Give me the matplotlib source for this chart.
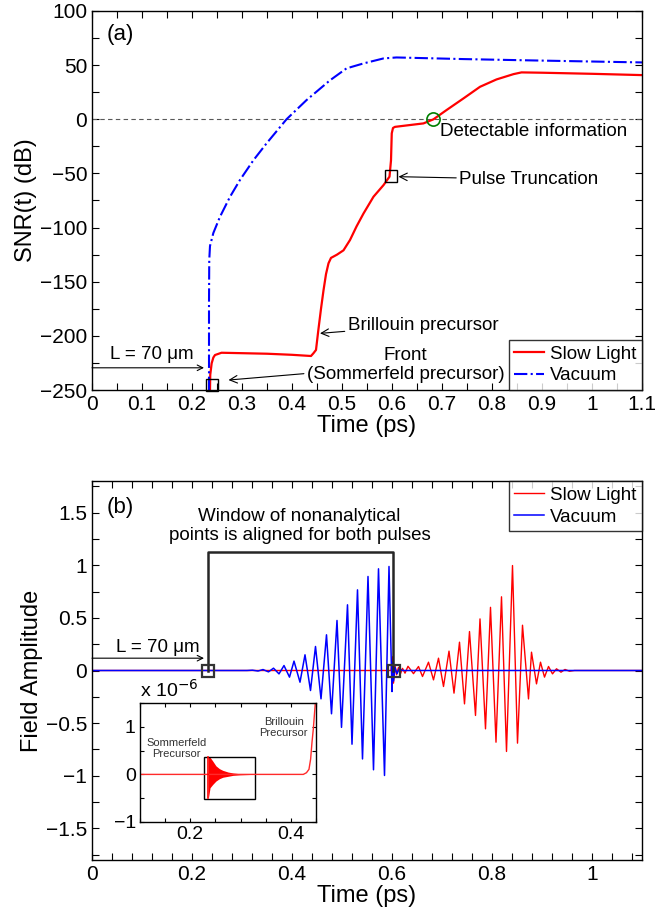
import matplotlib
matplotlib.use('Agg')
import matplotlib.pyplot as plt
from matplotlib.ticker import MultipleLocator, FuncFormatter, FixedLocator
from matplotlib.patches import Rectangle

plt.rcParams['font.family'] = ['Liberation Sans', 'DejaVu Sans']

# (a) SNR curves
slow_t = [0.236, 0.2365, 0.2393, 0.2427, 0.246, 0.259, 0.30, 0.35, 0.40, 0.438, 0.443,
          0.448, 0.4527, 0.458, 0.463, 0.468, 0.473, 0.478, 0.49, 0.503, 0.516, 0.529,
          0.543, 0.563, 0.583, 0.595, 0.598, 0.5995, 0.602, 0.606, 0.629, 0.663, 0.683,
          0.709, 0.743, 0.776, 0.809, 0.843, 0.859, 0.90, 1.0, 1.1]
slow_snr = [-250, -236, -225.4, -220, -217.7, -215.6, -216, -216.5, -217.5, -218.6, -216,
            -213, -194.6, -175, -158, -143, -133, -128, -125, -121, -111.5, -99,
            -87, -71.5, -60.8, -53, -38, -13, -8, -7, -5.7, -3.8, 0,
            8.5, 19.3, 30, 36.8, 41.7, 43.3, 43, 42, 40.8]
vac_t = [0.234, 0.234, 0.2345, 0.236, 0.2427, 0.256, 0.276, 0.296, 0.323, 0.349, 0.389,
         0.429, 0.476, 0.509, 0.543, 0.583, 0.609, 0.743, 0.876, 1.1]
vac_snr = [-250, -170, -130, -117, -105, -90, -71.6, -56, -37.7, -22.3, 0,
           17.7, 36, 47, 51.6, 56.2, 57.1, 55.6, 54.4, 52.5]

# (b) field amplitude (extrema of the oscillations)
vac_field_t = [0, 0.31, 0.321, 0.332, 0.342, 0.353, 0.363, 0.374, 0.384, 0.395, 0.404,
               0.416, 0.426, 0.437, 0.447, 0.458, 0.469, 0.479, 0.49, 0.499, 0.511,
               0.52, 0.531, 0.541, 0.552, 0.563, 0.573, 0.585, 0.594, 0.600, 0.601,
               0.603, 0.606, 0.610, 0.615, 0.62, 1.1]
vac_field = [0, 0, 0.003, -0.005, 0.009, -0.013, 0.022, -0.032, 0.047, -0.063, 0.089,
             -0.111, 0.149, -0.19, 0.228, -0.269, 0.339, -0.411, 0.475, -0.54, 0.624,
             -0.70, 0.766, -0.84, 0.893, -0.943, 0.966, -0.997, 0.988, -0.2, 0.08,
             -0.1, 0.03, -0.03, 0.02, 0, 0]
slow_field_t = [0, 0.598, 0.601, 0.603, 0.606, 0.609, 0.613, 0.617, 0.621, 0.626, 0.632,
                0.643, 0.653, 0.661, 0.673, 0.683, 0.693, 0.703, 0.714, 0.724, 0.735,
                0.745, 0.755, 0.767, 0.776, 0.787, 0.797, 0.808, 0.819, 0.829, 0.841,
                0.851, 0.861, 0.873, 0.879, 0.889, 0.897, 0.905, 0.913, 0.921, 0.929,
                0.938, 0.946, 0.955, 0.965, 1.1]
slow_field = [0, 0, 0.13, -0.12, 0.05, -0.04, 0.03, -0.03, 0.02, -0.025, 0.04,
              -0.03, 0.038, -0.057, 0.079, -0.089, 0.117, -0.152, 0.184, -0.215, 0.269,
              -0.317, 0.37, -0.427, 0.49, -0.554, 0.60, -0.681, 0.70, -0.769, 0.997,
              -0.69, 0.43, -0.27, 0.174, -0.127, 0.079, -0.063, 0.038, -0.032, 0.016,
              -0.016, 0.01, -0.007, 0, 0]

# inset (units of 1e-6)
base_t = [0.1, 0.236, 0.33, 0.4247, 0.431, 0.436, 0.4393, 0.442, 0.4447, 0.449]
base_v = [0, 0, 0, 0, 0.035, 0.106, 0.32, 0.67, 0.96, 1.55]
som_t = [0.236, 0.2393, 0.2447, 0.251, 0.258, 0.2647, 0.275, 0.285, 0.298, 0.325]
som_up = [0.376, 0.36, 0.28, 0.18, 0.12, 0.085, 0.05, 0.03, 0.015, 0.0]
som_lo = [-0.5, -0.28, -0.21, -0.14, -0.09, -0.06, -0.04, -0.02, -0.01, 0.0]

bracket_t = [0.231, 0.231, 0.601, 0.601]
bracket_y = [0, 1.125, 1.125, 0]

fmt = FuncFormatter(lambda v, p: ('%g' % round(v, 6)).replace('-', '\u2212'))


def style(ax, size):
    ax.tick_params(which='both', direction='in', top=True, right=True,
                   length=5, width=0.8, labelsize=size)
    ax.xaxis.set_major_formatter(fmt)
    ax.yaxis.set_major_formatter(fmt)
    for s in ax.spines.values():
        s.set_linewidth(1.0)


fig = plt.figure(figsize=(6.59, 9.15), dpi=100)

# ---------- (a) ----------
ax1 = fig.add_axes([92 / 659, 1 - 390 / 915, 550 / 659, 379 / 915])
ax1.axhline(0, color='0.35', ls='--', lw=0.8, dashes=(4, 3))
ax1.plot(slow_t, slow_snr, color='red', lw=1.6, label='Slow Light')
ax1.plot(vac_t, vac_snr, color='blue', lw=1.5, ls='-.', label='Vacuum')
ax1.set_xlim(0, 1.1)
ax1.set_ylim(-250, 100)
ax1.xaxis.set_major_locator(MultipleLocator(0.1))
ax1.xaxis.set_minor_locator(MultipleLocator(0.05))
ax1.yaxis.set_major_locator(MultipleLocator(50))
ax1.yaxis.set_minor_locator(MultipleLocator(25))
style(ax1, 15)
ax1.set_xlabel('Time (ps)', fontsize=17, labelpad=1)
ax1.set_ylabel('SNR(t) (dB)', fontsize=17, labelpad=2)
ax1.text(0.03, 78, '(a)', fontsize=16, va='center')

ax1.plot([0.2393], [-245], 's', ms=8, mfc='none', mec='black', mew=1.0, clip_on=False)
ax1.plot([0.598], [-52.6], 's', ms=8, mfc='none', mec='black', mew=1.0)
ax1.plot([0.681], [0], 'o', ms=9.5, mfc='none', mec='green', mew=1.2)

arrow = dict(arrowstyle='->', color='black', lw=0.8, shrinkA=0, shrinkB=0)
ax1.annotate('', xy=(0.224, -229.5), xytext=(0, -229.5), arrowprops=arrow)
ax1.text(0.12, -217, 'L = 70 μm', fontsize=13.5, ha='center', va='center')
ax1.annotate('Front\n(Sommerfeld precursor)', xy=(0.273, -240.8), xytext=(0.627, -227),
             fontsize=13.5, ha='center', va='center', linespacing=1.15, arrowprops=arrow)
ax1.annotate('Brillouin precursor', xy=(0.456, -197.7), xytext=(0.511, -190),
             fontsize=13.5, ha='left', va='center', arrowprops=arrow)
ax1.annotate('Pulse Truncation', xy=(0.613, -53), xytext=(0.734, -55.5),
             fontsize=13.5, ha='left', va='center', arrowprops=arrow)
ax1.text(0.697, -11.5, 'Detectable information', fontsize=13.5, ha='left', va='center')

leg1 = ax1.legend(loc='lower right', fontsize=13.5, frameon=True, fancybox=False,
                  borderaxespad=0, handlelength=1.6, handletextpad=0.3,
                  borderpad=0.3, labelspacing=0.25)
leg1.get_frame().set_edgecolor('black')
leg1.get_frame().set_linewidth(1.0)

# ---------- (b) ----------
ax2 = fig.add_axes([92 / 659, 1 - 860 / 915, 550 / 659, 379 / 915])
ax2.plot(slow_field_t, slow_field, color='red', lw=1.0, label='Slow Light')
ax2.plot(vac_field_t, vac_field, color='blue', lw=1.1, label='Vacuum')
ax2.plot(bracket_t, bracket_y, color='0.15', lw=1.8)
ax2.plot([0.2316, 0.603], [0, 0], 's', ms=8, mfc='none', mec='0.2', mew=1.6)
ax2.set_xlim(0, 1.1)
ax2.set_ylim(-1.8, 1.8)
ax2.xaxis.set_major_locator(FixedLocator([0, 0.2, 0.4, 0.6, 0.8, 1.0]))
ax2.xaxis.set_minor_locator(MultipleLocator(0.04))
ax2.yaxis.set_major_locator(MultipleLocator(0.5))
ax2.yaxis.set_minor_locator(MultipleLocator(0.25))
style(ax2, 15)
ax2.set_xlabel('Time (ps)', fontsize=17, labelpad=1)
ax2.set_ylabel('Field Amplitude', fontsize=17, labelpad=2)
ax2.text(0.03, 1.55, '(b)', fontsize=16, va='center')
ax2.text(0.415, 1.372, 'Window of nonanalytical\npoints is aligned for both pulses',
         fontsize=13.5, ha='center', va='center', linespacing=1.1)
ax2.annotate('', xy=(0.224, 0.117), xytext=(0, 0.117), arrowprops=arrow)
ax2.text(0.132, 0.22, 'L = 70 μm', fontsize=13.5, ha='center', va='center')

leg2 = ax2.legend(loc='upper right', fontsize=13.5, frameon=True, fancybox=False,
                  borderaxespad=0, handlelength=1.6, handletextpad=0.3,
                  borderpad=0.3, labelspacing=0.25)
leg2.get_frame().set_edgecolor('black')
leg2.get_frame().set_linewidth(1.0)

# ---------- inset ----------
ax3 = fig.add_axes([140 / 659, 1 - 822 / 915, 176 / 659, 119 / 915])
ax3.plot(base_t, base_v, color='#ff2a2a', lw=1.0)
ax3.fill_between(som_t, som_lo, som_up, color='red', lw=0)
ax3.plot([0.236, 0.236], [som_lo[0], som_up[0]], color='red', lw=1.2)
ax3.add_patch(Rectangle((0.228, -0.52), 0.1, 0.896, fill=False, ec='black', lw=1.0))
ax3.set_xlim(0.1, 0.45)
ax3.set_ylim(-1, 1.5)
ax3.xaxis.set_major_locator(FixedLocator([0.2, 0.4]))
ax3.xaxis.set_minor_locator(MultipleLocator(0.05))
ax3.yaxis.set_major_locator(MultipleLocator(1))
ax3.yaxis.set_minor_locator(MultipleLocator(0.5))
style(ax3, 14)
ax3.tick_params(which='both', length=3, pad=3)
ax3.text(0.172, 0.54, 'Sommerfeld\nPrecursor', fontsize=8, color='0.2',
         ha='center', va='center', linespacing=1.15)
ax3.text(0.386, 0.99, 'Brillouin\nPrecursor', fontsize=8, color='0.2',
         ha='center', va='center', linespacing=1.15)
ax3.text(0.0, 1.02, r'x 10$^{-6}$', fontsize=14, transform=ax3.transAxes,
         ha='left', va='bottom')

fig.savefig('out.png', dpi=100)
